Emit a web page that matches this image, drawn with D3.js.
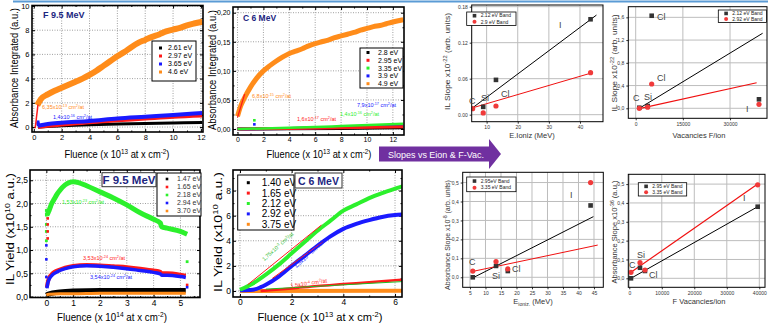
<!DOCTYPE html>
<html><head><meta charset="utf-8">
<script src="https://cdn.jsdelivr.net/npm/d3@7/dist/d3.min.js"></script>
<style>
body{margin:0;background:#fff;}
svg{display:block;font-family:"Liberation Sans",Arial,sans-serif;}
</style></head><body>
<svg id="chart" width="768" height="324"></svg>
<script>
// ---- top-left: absorbance, F 9.5 MeV
var p1Fluence = [0.25,0.5,1,1.5,2,2.5,3,3.5,4,4.5,5,5.5,6,6.5,7,7.5,8,8.5,9,9.5,10,10.5,11,11.5,12.1];
var p1Orange  = [1.8,2.3,2.7,3.0,3.25,3.5,3.75,4.0,4.3,4.65,5.05,5.45,5.85,6.2,6.6,6.95,7.2,7.45,7.65,7.9,8.05,8.2,8.4,8.55,8.7];
var p1LowX    = [0.3,1,2,4,6,8,10,12.1];
var p1Blue    = [0.1,0.25,0.35,0.5,0.7,0.85,1.0,1.15];
var p1Red     = [0.0,0.1,0.2,0.4,0.55,0.7,0.85,0.95];
var p1Black   = [0.0,0.05,0.1,0.18,0.25,0.3,0.33,0.37];
var p1Fit     = [[0.1,-0.1],[0.3,1.85]];
var p1Legend  = ["2.61 eV","2.97 eV","3.65 eV","4.6 eV"];

// ---- top: absorbance, C 6 MeV
var p2Fluence = [0,0.25,0.5,1,1.5,2,2.5,3,3.5,4,4.5,5,5.5,6,6.5,7,7.5,8,8.5,9,9.5,10,10.5,11,11.5,12,12.8];
var p2Orange  = [0.022,0.04,0.052,0.072,0.088,0.1,0.109,0.117,0.124,0.13,0.134,0.138,0.143,0.147,0.15,0.153,0.157,0.16,0.163,0.166,0.17,0.173,0.176,0.178,0.181,0.184,0.188];
var p2LowX    = [0,4,8,12.8];
var p2Black   = [0,0.0005,0.001,0.002];
var p2Blue    = [0,0.001,0.003,0.006];
var p2Red     = [0,0.001,0.002,0.004];
var p2Green   = [0,0.002,0.005,0.009];
var p2Fit     = [[0,0.02],[0.55,0.06]];
var p2Legend  = ["2.8 eV","2.95 eV","3.35 eV","3.9 eV","4.9 eV"];

// ---- bottom-left: IL yield, F 9.5 MeV
var p3GreenX  = [0.02,0.05,0.1,0.2,0.3,0.4,0.5,0.7,0.9,1.0,1.2,1.5,2.0,2.5,3.0,3.5,4.0,4.25,4.3,4.5,5.0,5.25];
var p3Green   = [1.75,1.78,1.85,2.0,2.1,2.2,2.28,2.4,2.46,2.47,2.45,2.38,2.25,2.12,1.97,1.8,1.66,1.58,1.5,1.47,1.4,1.34];
var p3MidX    = [0.02,0.05,0.1,0.2,0.3,0.5,0.7,1.0,1.5,2.0,2.5,3.0,3.5,4.0,4.25,4.3,4.5,5.0,5.2];
var p3Red     = [0.2,0.3,0.4,0.48,0.53,0.58,0.62,0.66,0.68,0.67,0.65,0.63,0.6,0.56,0.53,0.5,0.5,0.47,0.45];
var p3Blue    = [0.18,0.28,0.37,0.45,0.5,0.56,0.6,0.64,0.66,0.65,0.63,0.6,0.56,0.52,0.49,0.46,0.46,0.43,0.41];
var p3LowX    = [0,0.1,0.5,1,2,3,4,5,5.2];
var p3Black   = [0.03,0.06,0.1,0.12,0.13,0.13,0.13,0.13,0.13];
var p3Orange  = [0.03,0.05,0.06,0.06,0.07,0.07,0.07,0.07,0.07];
var p3GreenDots = [[0,1.2],[0,1.4],[0,1.55],[0,1.75],[0,1.85],[5.25,0.75]];
var p3BlueDots  = [[0,1.1],[0,0.8],[0,0.42],[5.25,0.2]];
var p3RedDots   = [[0.05,1.25],[0.05,1.4],[0.05,1.55],[0.05,1.68],[5.25,0.25]];
var p3Legend  = ["1.47 eV","1.65 eV","2.18 eV","2.94 eV","3.70 eV"];

// ---- bottom: IL yield, C 6 MeV
var p4GreenX  = [0,0.5,1,1.5,2,2.5,3,3.5,4,4.5,5,5.5,6,6.3];
var p4Green   = [0.1,0.6,1.3,2.1,3.0,3.9,4.8,5.6,6.4,6.9,7.4,7.8,8.15,8.35];
var p4BlueX   = [0,0.5,0.8,1,1.5,2,2.5,3,3.5,4,4.5,5,5.5,6,6.3];
var p4Blue    = [0.05,0.1,0.3,0.5,1.15,2.0,2.8,3.6,4.35,4.95,5.35,5.65,5.9,6.05,6.1];
var p4RedX    = [0.8,2,3,4,5,6,6.3];
var p4Red     = [0.0,0.2,0.4,0.55,0.7,0.85,0.9];
var p4FlatX   = [0,6.3];
var p4Black   = [0,0.02];
var p4Orange  = [0,0.02];
var p4FitGreen = [[0.3,0.5],[3.15,5.25]];
var p4FitBlue  = [[1.25,1.0],[3.2,3.9]];
var p4FitRed   = [[1.0,0.15],[6.3,0.75]];
var p4Legend  = ["1.40 eV","1.65 eV","2.12 eV","2.92 eV","3.75 eV"];

// ---- right panels
var ions = ["C","Si","Cl","I"];
var p5BlackX = [8.9,13.0,43.4],  p5Black = [0.013,0.058,0.159];
var p5RedX   = [5.5,8.9,13.0,43.4], p5Red = [0.010,0.003,0.0145,0.070];
var p5FitBlack = [[5.7,0.0123],[45.3,0.166]], p5FitRed = [[5.2,0.011],[44,0.07]];

var p6X = [1150,3800,5085,39200];
var p6Black = [0.01,0.04,1.628,0.158], p6Red = [0.0,0.02,0.427,0.07];
var p6FitBlack = [[1150,0],[40360,1.32]], p6FitRed = [[1150,-0.005],[38450,0.45]];

var p7X = [5.9,13.4,17.2,43.9];
var p7Black = [0.0,0.06,0.033,0.379], p7Red = [0.033,0.083,0.044,0.5];
var p7FitBlack = [[5.9,-0.003],[44.8,0.32]], p7FitRed = [[5.6,0.03],[46.2,0.17]];

var p8X = [520,3300,4830,39500];
var p8Black = [0.0,0.056,0.039,0.38], p8Red = [0.032,0.083,0.044,0.496];
var p8FitBlack = [[520,0],[39500,0.38]], p8FitRed = [[520,0.032],[39500,0.5]];

var col = {black:"#000", red:"#ff1a1a", green:"#2cf02c", blue:"#1a1aff", orange:"#ff8c1a", navy:"#1c2580"};
var comma = function (n) { return function (d) { return d3.format("." + n + "f")(d).replace(".", ","); }; };

var svg = d3.select("#chart");
svg.append("rect").attr("width", 768).attr("height", 324).attr("fill", "#fff");
svg.append("line").attr("x1", 13).attr("x2", 768).attr("y1", 1.5).attr("y2", 1.5)
    .attr("stroke", "#5b9bd5").attr("stroke-width", 2);

var clipN = 0;

function rich(sel, parts, size) {
    var shift = 0;
    parts.forEach(function (p) {
        var obj = typeof p === "object";
        var target = obj ? (p.sup ? -size * 0.36 : size * 0.22) : 0;
        var ts = sel.append("tspan").attr("dy", target - shift).text(obj ? (p.sup || p.sub) : p);
        if (obj) ts.style("font-size", (size * 0.68) + "px");
        shift = target;
    });
    return sel;
}

// text with optional rotation; o.len squeezes it horizontally to a measured width
function label(g, x, y, parts, o) {
    var base = "translate(" + x + "," + y + ")" + (o.rot ? " rotate(" + o.rot + ")" : "");
    var t = g.append("text")
        .attr("transform", base)
        .attr("text-anchor", o.anchor || "middle")
        .style("font-size", o.size + "px")
        .attr("fill", o.fill || "#000")
        .style("font-weight", o.bold ? "bold" : null);
    rich(t, parts, o.size);
    if (o.len) {
        var k = o.len / t.node().getComputedTextLength();
        t.attr("transform", base + " scale(" + k + ",1)");
    }
    return t;
}

function panel(o) {
    var g = svg.append("g");
    var x = d3.scaleLinear().domain(o.xd).range([o.l, o.r]);
    var y = d3.scaleLinear().domain(o.yd).range([o.b, o.t]);
    var id = "clip" + (clipN++);
    g.append("clipPath").attr("id", id).append("rect")
        .attr("x", o.l).attr("y", o.t).attr("width", o.r - o.l).attr("height", o.b - o.t);

    var grid = g.append("g").attr("stroke", o.gridColor).attr("stroke-width", o.gridW)
        .attr("stroke-dasharray", o.dash || null);
    grid.selectAll(".gx").data(o.xt).enter().append("line")
        .attr("x1", x).attr("x2", x).attr("y1", o.t).attr("y2", o.b);
    grid.selectAll(".gy").data(o.yt).enter().append("line")
        .attr("x1", o.l).attr("x2", o.r).attr("y1", y).attr("y2", y);

    var ts = o.inward ? -o.tick : o.tick;
    var axes = [
        [d3.axisBottom(x).tickValues(o.xt).tickFormat(o.xf), "translate(0," + o.b + ")", true],
        [d3.axisLeft(y).tickValues(o.yt).tickFormat(o.yf), "translate(" + o.l + ",0)", true],
        [d3.axisTop(x).tickValues(o.xt).tickFormat(""), "translate(0," + o.t + ")", o.inward],
        [d3.axisRight(y).tickValues(o.yt).tickFormat(""), "translate(" + o.r + ",0)", o.inward]
    ];
    axes.forEach(function (a) {
        if (!a[2]) return;
        var ag = g.append("g").attr("transform", a[1])
            .call(a[0].tickSizeInner(ts).tickSizeOuter(0).tickPadding(o.pad));
        ag.select(".domain").remove();
        ag.selectAll("line").attr("stroke", "#000").attr("stroke-width", o.inward ? 1 : 0.8);
        ag.selectAll("text").style("font-size", o.tickSize + "px").attr("fill", o.tickColor || "#000")
            .style("font-family", "Liberation Sans, Arial, sans-serif");
    });
    if (o.xm) {
        [[d3.axisBottom(x), o.b], [d3.axisTop(x), o.t]].forEach(function (a) {
            var ag = g.append("g").attr("transform", "translate(0," + a[1] + ")")
                .call(a[0].tickValues(o.xm).tickFormat("").tickSizeInner(ts / 2).tickSizeOuter(0));
            ag.select(".domain").remove();
        });
        [[d3.axisLeft(y), o.l], [d3.axisRight(y), o.r]].forEach(function (a) {
            var ag = g.append("g").attr("transform", "translate(" + a[1] + ",0)")
                .call(a[0].tickValues(o.ym).tickFormat("").tickSizeInner(ts / 2).tickSizeOuter(0));
            ag.select(".domain").remove();
        });
    }
    var data = g.append("g").attr("clip-path", "url(#" + id + ")");
    g.append("rect").attr("x", o.l).attr("y", o.t).attr("width", o.r - o.l).attr("height", o.b - o.t)
        .attr("fill", "none").attr("stroke", "#000").attr("stroke-width", o.frame);
    return {g: g, data: data, x: x, y: y};
}

function band(p, xs, ys, color, w) {
    var pts = xs.map(function (d, i) { return [d, ys[i]]; });
    p.data.append("path").datum(pts)
        .attr("d", d3.line().x(function (d) { return p.x(d[0]); }).y(function (d) { return p.y(d[1]); }).curve(d3.curveMonotoneX))
        .attr("fill", "none").attr("stroke", color).attr("stroke-width", w).attr("stroke-linecap", "butt");
}

function seg(p, pts, color, w) {
    p.data.append("path").datum(pts)
        .attr("d", d3.line().x(function (d) { return p.x(d[0]); }).y(function (d) { return p.y(d[1]); }))
        .attr("fill", "none").attr("stroke", color).attr("stroke-width", w);
}

function dots(p, pts, color, r) {
    p.data.selectAll(null).data(pts).enter().append("rect")
        .attr("x", function (d) { return p.x(d[0]) - r; }).attr("y", function (d) { return p.y(d[1]) - r; })
        .attr("width", 2 * r).attr("height", 2 * r).attr("fill", color);
}

function legend(g, box, names, colors, o) {
    g.append("rect").attr("x", box[0]).attr("y", box[1]).attr("width", box[2] - box[0]).attr("height", box[3] - box[1])
        .attr("fill", "#fff").attr("stroke", "#000").attr("stroke-width", o.stroke || 1);
    names.forEach(function (n, i) {
        var yy = o.y0 + i * o.dy;
        g.append("rect").attr("x", o.sx - o.sym / 2).attr("y", yy - o.sym / 2).attr("width", o.sym).attr("height", o.sym)
            .attr("fill", colors[i]);
        g.append("text").attr("x", o.tx).attr("y", yy).attr("dy", "0.35em").style("font-size", o.size + "px")
            .attr("fill", o.color || "#000").text(n);
    });
}

function ann(g, x, y, mant, exp, color, size, rot) {
    label(g, x, y, [mant + "x10", {sup: exp}, " cm", {sup: "2"}, "/at"],
        {size: size, fill: color, anchor: rot ? "middle" : "start", rot: rot});
}

// ================= panel 1
var P1 = panel({l: 32, r: 203, t: 5.5, b: 132, xd: [-0.13, 12.15], yd: [-0.41, 10.04],
    xt: d3.range(0, 13, 2), yt: d3.range(0, 11, 2), xm: d3.range(1, 13, 2), ym: d3.range(1, 10, 2),
    xf: d3.format("d"), yf: d3.format("d"), inward: true, tick: 3, pad: 2.5, tickSize: 7.5, frame: 1.6,
    gridColor: "#888", gridW: 0.8, dash: "1,1.5"});
band(P1, p1LowX, p1Black, col.black, 3);
band(P1, p1LowX, p1Red, col.red, 4);
band(P1, p1LowX, p1Blue, col.blue, 4);
dots(P1, [[0.3, 0.3], [0.3, 0.42], [0.32, 0.2]], col.blue, 1.5);
band(P1, p1Fluence, p1Orange, col.orange, 6);
seg(P1, p1Fit, col.red, 1.5);
label(P1.g, 43, 18, ["F 9.5 MeV"], {size: 9, fill: col.navy, bold: true, anchor: "start"});
legend(P1.g, [152, 41, 196, 81], p1Legend, [col.black, col.red, col.blue, col.orange],
    {y0: 48, dy: 8, sx: 160.5, tx: 168, sym: 3, size: 7});
ann(P1.g, 42, 109, "6,35", "-13", col.orange, 5.5);
ann(P1.g, 53, 119, "1,4", "-16", col.blue, 5.5);
label(P1.g, 117, 158, ["Fluence (x 10", {sup: "13"}, " at x cm", {sup: "-2"}, ")"], {size: 10, len: 105});
label(P1.g, 18, 68, ["Absorbance Integrated (a.u.)"], {size: 10, rot: -90, len: 120});

// ================= panel 2
var P2 = panel({l: 233, r: 404, t: 7, b: 135, xd: [-0.35, 12.86], yd: [-0.0103, 0.2098],
    xt: d3.range(0, 13, 2), yt: [0, 0.05, 0.1, 0.15, 0.2], xm: d3.range(1, 13, 2), ym: [0.025, 0.075, 0.125, 0.175],
    xf: d3.format("d"), yf: comma(2), inward: true, tick: 3, pad: 2.5, tickSize: 7, frame: 1.6,
    gridColor: "#888", gridW: 0.8, dash: "1,1.5"});
band(P2, p2LowX, p2Black, col.black, 3);
band(P2, p2LowX, p2Blue, col.blue, 3);
band(P2, p2LowX, p2Red, col.red, 3);
band(P2, p2LowX, p2Green, col.green, 2.5);
dots(P2, [[1.3, 0.015]], col.green, 1.3);
dots(P2, [[1.3, 0.008]], col.blue, 1.3);
band(P2, p2Fluence, p2Orange, col.orange, 5);
seg(P2, p2Fit, col.red, 1.3);
label(P2.g, 243, 21, ["C 6 MeV"], {size: 8.5, fill: col.navy, bold: true, anchor: "start"});
legend(P2.g, [360, 48, 403, 88], p2Legend, [col.black, col.red, col.green, col.blue, col.orange],
    {y0: 52.5, dy: 7.8, sx: 368, tx: 378, sym: 3, size: 7});
ann(P2.g, 252, 98, "6,8", "-15", col.orange, 5.5);
ann(P2.g, 297, 121, "1,6", "-17", col.red, 5.5);
ann(P2.g, 340, 116, "1,4", "-16", col.green, 5.5);
ann(P2.g, 357, 107, "7,9", "-17", col.blue, 5.5);
label(P2.g, 319, 158, ["Fluence (x 10", {sup: "13"}, " at x cm", {sup: "-2"}, ")"], {size: 10, len: 105});
label(P2.g, 216, 70, ["Absorbance Integrated (a.u.)"], {size: 10, rot: -90, len: 120});

// ================= panel 3
var P3 = panel({l: 30, r: 200, t: 170, b: 297.5, xd: [-0.61, 5.73], yd: [-0.02, 2.72],
    xt: d3.range(0, 6), yt: [0, 0.5, 1, 1.5, 2, 2.5], xm: [0.5, 1.5, 2.5, 3.5, 4.5, 5.5], ym: [0.25, 0.75, 1.25, 1.75, 2.25],
    xf: d3.format("d"), yf: comma(1), inward: true, tick: 3, pad: 2, tickSize: 8.5, frame: 1.6,
    gridColor: "#888", gridW: 0.8, dash: "1,1.5"});
band(P3, p3LowX, p3Black, col.black, 5);
band(P3, p3LowX, p3Orange, col.orange, 3);
band(P3, p3MidX, p3Red, col.red, 4);
band(P3, p3MidX, p3Blue, col.blue, 3.5);
band(P3, p3GreenX, p3Green, col.green, 5);
dots(P3, p3GreenDots, col.green, 1.4);
dots(P3, p3RedDots, col.red, 1.3);
dots(P3, p3BlueDots, col.blue, 1.3);
P3.g.append("rect").attr("x", 102).attr("y", 172.7).attr("width", 54).attr("height", 14)
    .attr("fill", "#fff").attr("stroke", "#333").attr("stroke-width", 1);
label(P3.g, 129, 184, ["F 9.5 MeV"], {size: 11.5, fill: col.navy, bold: true});
legend(P3.g, [157, 173, 201, 216], p3Legend, [col.black, col.red, col.green, col.blue, col.orange],
    {y0: 179, dy: 8, sx: 167, tx: 177, sym: 2.6, size: 7, color: "#333"});
ann(P3.g, 62, 204, "1,53", "-23", col.green, 5.5);
ann(P3.g, 83, 260, "3,53", "-24", col.red, 5.5);
ann(P3.g, 90, 279, "3,54", "-24", col.blue, 5.5);
label(P3.g, 112, 320.5, ["Fluence (x 10", {sup: "14"}, " at x cm", {sup: "-2"}, ")"], {size: 11, len: 110});
label(P3.g, 14, 229, ["IL Yield (x10", {sup: "10"}, " a.u.)"], {size: 11, rot: -90, len: 112});

// ================= panel 4
var P4 = panel({l: 233, r: 402, t: 170, b: 297, xd: [-0.27, 6.27], yd: [-0.48, 9.64],
    xt: [0, 2, 4, 6], yt: [0, 2, 4, 6, 8], xm: [1, 3, 5], ym: [1, 3, 5, 7, 9],
    xf: d3.format("d"), yf: d3.format("d"), inward: true, tick: 3, pad: 2, tickSize: 8.5, frame: 1.6,
    gridColor: "#888", gridW: 0.8, dash: "1,1.5"});
band(P4, p4FlatX, p4Black, col.black, 2);
band(P4, p4FlatX, p4Orange, col.orange, 4);
band(P4, p4RedX, p4Red, col.red, 2.5);
band(P4, p4BlueX, p4Blue, col.blue, 4);
band(P4, p4GreenX, p4Green, col.green, 4);
seg(P4, p4FitGreen, col.red, 1);
seg(P4, p4FitBlue, col.red, 1);
seg(P4, p4FitRed, "#22bb22", 1);
legend(P4.g, [237.7, 175, 294, 230], p4Legend, [col.black, col.red, col.green, col.blue, col.orange],
    {y0: 182.7, dy: 10.4, sx: 248.3, tx: 261.7, sym: 3, size: 10});
P4.g.append("rect").attr("x", 295).attr("y", 173).attr("width", 47).attr("height", 15)
    .attr("fill", "#fff").attr("stroke", "#333").attr("stroke-width", 1);
label(P4.g, 318.5, 185, ["C 6 MeV"], {size: 10.5, fill: col.navy, bold: true});
ann(P4.g, 279, 248, "1,75", "-3", "#33bb33", 5.5, -42);
ann(P4.g, 310, 256, "1,5", "-3", col.blue, 5.5, -42);
ann(P4.g, 309, 285, "1,5", "-4", col.red, 5.5, -8);
label(P4.g, 320, 320.5, ["Fluence (x 10", {sup: "13"}, " at x cm", {sup: "-2"}, ")"], {size: 11, len: 125});
label(P4.g, 222, 232, ["IL Yield (x10", {sup: "10"}, " a.u.)"], {size: 11, rot: -90, len: 120});

// ================= arrow
svg.append("rect").attr("x", 379).attr("y", 146.5).attr("width", 111).attr("height", 15).attr("fill", "#7030a0");
svg.append("path").attr("d", "M489,139L501,154L489,169Z").attr("fill", "#7030a0");
svg.append("text").attr("x", 436).attr("y", 157.5).attr("text-anchor", "middle").attr("fill", "#fff")
    .style("font-size", "9px").attr("textLength", 96).attr("lengthAdjust", "spacingAndGlyphs").text("Slopes vs Eion & F-Vac.");

// ================= right panels
function scatter(p, xs, ys, kind) {
    if (kind === "sq") {
        p.data.selectAll(null).data(xs).enter().append("rect")
            .attr("x", function (d) { return p.x(d) - 2.3; })
            .attr("y", function (d, i) { return p.y(ys[i]) - 2.3; })
            .attr("width", 4.6).attr("height", 4.6).attr("fill", "#333");
    } else {
        p.data.selectAll(null).data(xs).enter().append("circle")
            .attr("cx", function (d) { return p.x(d); })
            .attr("cy", function (d, i) { return p.y(ys[i]); })
            .attr("r", 2.6).attr("fill", "#f03a3a");
    }
}
function smallLegend(g, box, names, size) {
    g.append("rect").attr("x", box[0]).attr("y", box[1]).attr("width", box[2] - box[0]).attr("height", box[3] - box[1])
        .attr("fill", "#fff").attr("stroke", "#000").attr("stroke-width", 0.8);
    var dy = (box[3] - box[1]) / 2;
    var y1 = box[1] + dy * 0.55, y2 = box[1] + dy * 1.45;
    g.append("rect").attr("x", box[0] + 6).attr("y", y1 - 1.8).attr("width", 3.6).attr("height", 3.6).attr("fill", "#333");
    g.append("circle").attr("cx", box[0] + 7.8).attr("cy", y2).attr("r", 2).attr("fill", "#f03a3a");
    [y1, y2].forEach(function (yy, i) {
        g.append("text").attr("x", box[0] + 14).attr("y", yy).attr("dy", "0.35em").style("font-size", size + "px")
            .attr("fill", "#222").text(names[i]);
    });
}
function ionLabels(g, p, pos) {
    pos.forEach(function (d) {
        g.append("text").attr("x", d[1]).attr("y", d[2]).style("font-size", "9px").attr("fill", "#444").text(d[0]);
    });
}
var rightStyle = {inward: false, tick: 2, pad: 2, tickSize: 5, frame: 1, gridColor: "#bdbdbd", gridW: 1, tickColor: "#333"};
function rp(o) { return panel(Object.assign({}, rightStyle, o)); }

var P5 = rp({l: 471.7, r: 603, t: 5, b: 121.7, xd: [5.2, 47.4], yd: [-0.0117, 0.1828],
    xt: [10, 20, 30, 40], yt: [0, 0.06, 0.12, 0.18], xf: d3.format("d"), yf: d3.format(".2f")});
seg(P5, p5FitBlack, "#000", 1);
seg(P5, p5FitRed, "#f01010", 1);
scatter(P5, p5BlackX, p5Black, "sq");
scatter(P5, p5RedX, p5Red, "ci");
smallLegend(P5.g, [466.7, 12, 516, 25.5], ["2.12 eV Band", "2.9 eV Band"], 5);
ionLabels(P5.g, P5, [[ions[0], 469, 104], [ions[1], 481, 101], [ions[2], 501, 97], [ions[3], 559, 28]]);
label(P5.g, 532, 138, ["E.Ioniz (MeV)"], {size: 7.5, fill: "#333"});
label(P5.g, 449.5, 61.5, ["IL Slope x10", {sup: "-22"}, " (arb. units)"], {size: 7, rot: -90, fill: "#333", len: 97});

var P6 = rp({l: 628.3, r: 767, t: 6.7, b: 118.3, xd: [-2350, 41750], yd: [-0.176, 1.787],
    xt: [0, 15000, 30000], yt: [0, 0.4, 0.8, 1.2, 1.6], xf: d3.format("d"), yf: comma(1)});
seg(P6, p6FitBlack, "#000", 1);
seg(P6, p6FitRed, "#f01010", 1.2);
scatter(P6, p6X, p6Black, "sq");
scatter(P6, p6X, p6Red, "ci");
smallLegend(P6.g, [718.3, 10, 766.5, 22.5], ["2.12 eV Band", "2.92 eV Band"], 5);
ionLabels(P6.g, P6, [[ions[2], 657, 19.5], [ions[2], 657, 81], [ions[0], 633, 101], [ions[1], 644, 100], [ions[3], 746, 112]]);
label(P6.g, 699, 138, ["Vacancies F/ion"], {size: 7.5, fill: "#333"});
label(P6.g, 616.5, 63, ["IL Slope x10", {sup: "-22"}, " (arb. units)"], {size: 7, rot: -90, fill: "#333", len: 97});

var P7 = rp({l: 462.7, r: 603.3, t: 172.3, b: 287.3, xd: [2.65, 48], yd: [-0.0528, 0.554],
    xt: d3.range(5, 46, 5), yt: [0, 0.1, 0.2, 0.3, 0.4, 0.5], xf: d3.format("d"), yf: comma(1)});
seg(P7, p7FitBlack, "#000", 1);
seg(P7, p7FitRed, "#f01010", 1);
scatter(P7, p7X, p7Black, "sq");
scatter(P7, p7X, p7Red, "ci");
smallLegend(P7.g, [466.7, 177, 516, 191.7], ["2.95eV Band", "3.35 eV Band"], 5);
ionLabels(P7.g, P7, [[ions[0], 469, 265], [ions[1], 492, 279], [ions[2], 512, 272], [ions[3], 570, 198]]);
label(P7.g, 533, 304, ["E", {sub: "ioniz."}, " (MeV)"], {size: 7.5, fill: "#333"});
label(P7.g, 449.5, 235, ["Absorbance Slope x10", {sup: "-8"}, " (arb. units)"], {size: 7, rot: -90, fill: "#333", len: 110});

var P8 = rp({l: 628.3, r: 765, t: 174.3, b: 287.3, xd: [-300, 41750], yd: [-0.0477, 0.552],
    xt: [0, 10000, 20000, 30000, 40000], yt: [0, 0.1, 0.2, 0.3, 0.4, 0.5], xf: d3.format("d"), yf: comma(1)});
seg(P8, p8FitBlack, "#000", 1);
seg(P8, p8FitRed, "#f01010", 1.2);
scatter(P8, p8X, p8Black, "sq");
scatter(P8, p8X, p8Red, "ci");
smallLegend(P8.g, [638.3, 182.7, 686.7, 196], ["2.95 eV Band", "3.35 eV Band"], 5);
ionLabels(P8.g, P8, [[ions[0], 629, 268], [ions[1], 637, 258], [ions[2], 649, 278], [ions[3], 743, 201]]);
label(P8.g, 699, 304, ["F Vacancies/ion"], {size: 7.5, fill: "#333"});
label(P8.g, 616.5, 232, ["Absorbance Slope x10", {sup: "-36"}, " (a.u.)"], {size: 7, rot: -90, fill: "#333", len: 103});
</script>
</body></html>
